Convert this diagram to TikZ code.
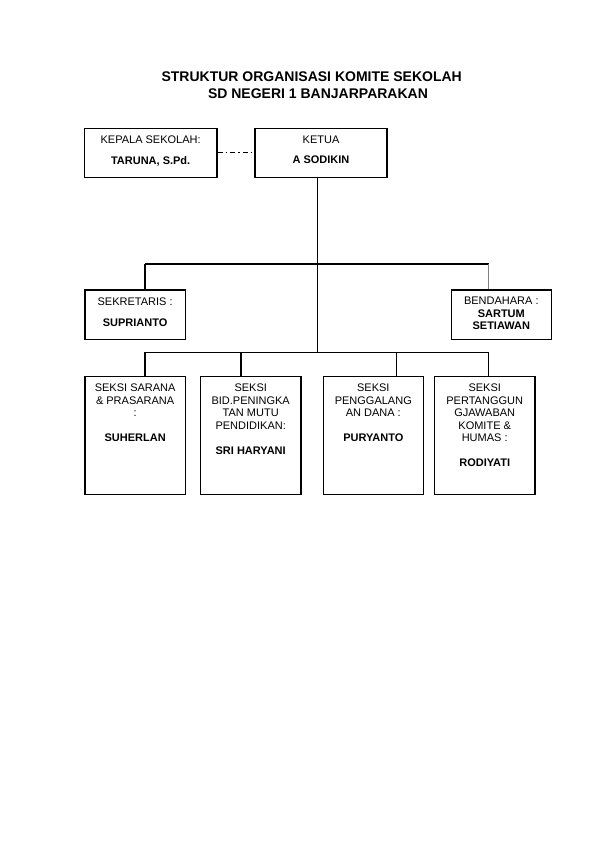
\documentclass[tikz,border=0pt]{standalone}
\usepackage{fontspec}
\setmainfont{Liberation Sans}
\usetikzlibrary{positioning}

\tikzset{
  box/.style={draw, line width=1.3pt, minimum width=100.3pt, minimum height=49.3pt, inner sep=0pt},
  seksi/.style={box, minimum height=117.6pt},
  txt/.style={inner sep=0pt, align=center, font=\fontsize{11}{12.5}\selectfont},
  judul/.style={inner sep=0pt, font=\fontsize{14}{16}\selectfont\bfseries},
  conn/.style={line width=1.1pt},
  dashdot/.style={line width=1.1pt, dash pattern=on 5pt off 3pt on 1.5pt off 3pt}
}

\begin{document}
\begin{tikzpicture}[x=1pt,y=-1pt]
%\draw[step=50,gray,very thin] (0,0) grid (595,842); %background grid
\useasboundingbox (0,0) rectangle (595,842);

\node[judul] (judul1) at (311.7,76.7) {STRUKTUR ORGANISASI KOMITE SEKOLAH};
\node[judul] (judul2) at (318,93.3) {SD NEGERI 1 BANJARPARAKAN};

\node[box, minimum width=132.7pt, minimum height=49pt] (kepala) at (150.65,152.8) {};
\node[box, minimum width=132pt, minimum height=49pt] (ketua) at (321,152.8) {};
\node[box] (sekretaris) at (135.15,314.65) {};
\node[box, minimum width=100pt] (bendahara) at (501.3,314.65) {};

\node[seksi] (sarana) at (135.15,435.5) {};
\node[seksi] (mutu) at (250.7,435.5) {};
\node[seksi] (dana) at (373.3,435.5) {};
\node[seksi] (humas) at (484.7,435.5) {};

\node[txt, below=7.8pt of kepala.north] (kepalatxt) {KEPALA SEKOLAH:\\[8.2pt]\textbf{TARUNA, S.Pd.}};
\node[txt, below=7.8pt of ketua.north] (ketuatxt) {KETUA\\[8.2pt]\textbf{A SODIKIN}};
\node[txt, below=7.8pt of sekretaris.north] (sekretaristxt) {SEKRETARIS :\\[8.5pt]\textbf{SUPRIANTO}};
\node[txt, below=7.8pt of bendahara.north] (bendaharatxt) {BENDAHARA :\\\textbf{SARTUM}\\\textbf{SETIAWAN}};

\node[txt, below=7.8pt of sarana.north] (saranatxt) {SEKSI SARANA\\\& PRASARANA\\:\\[12.5pt]\textbf{SUHERLAN}};
\node[txt, below=7.8pt of mutu.north] (mututxt) {SEKSI\\BID.PENINGKA\\TAN MUTU\\PENDIDIKAN:\\[12.5pt]\textbf{SRI HARYANI}};
\node[txt, below=7.8pt of dana.north] (danatxt) {SEKSI\\PENGGALANG\\AN DANA :\\[12.5pt]\textbf{PURYANTO}};
\node[txt, below=7.8pt of humas.north] (humastxt) {SEKSI\\PERTANGGUN\\GJAWABAN\\KOMITE \&\\HUMAS :\\[12.5pt]\textbf{RODIYATI}};

\coordinate (atas1) at (145,264);
\coordinate (atas2) at (488.7,264);
\coordinate (bawah1) at (145,352.3);
\coordinate (bawah2) at (241,352.3);
\coordinate (bawah3) at (396.7,352.3);
\coordinate (bawah4) at (488.7,352.3);
\coordinate (pusat) at (317.3,352.3);

\draw[dashdot] (kepala.east) -- (ketua.west);
\draw[conn] (ketua.south -| pusat) -- (pusat);

\draw[conn] (atas1) -- (atas2);
\draw[conn] (atas1) -- (atas1 |- sekretaris.north);
\draw[conn, gray] (atas2) -- (atas2 |- bendahara.north);

\draw[conn] (bawah1) -- (bawah4);
\draw[conn] (bawah1) -- (bawah1 |- sarana.north);
\draw[conn] (bawah2) -- (bawah2 |- mutu.north);
\draw[conn] (bawah3) -- (bawah3 |- dana.north);
\draw[conn] (bawah4) -- (bawah4 |- humas.north);

\end{tikzpicture}
\end{document}
